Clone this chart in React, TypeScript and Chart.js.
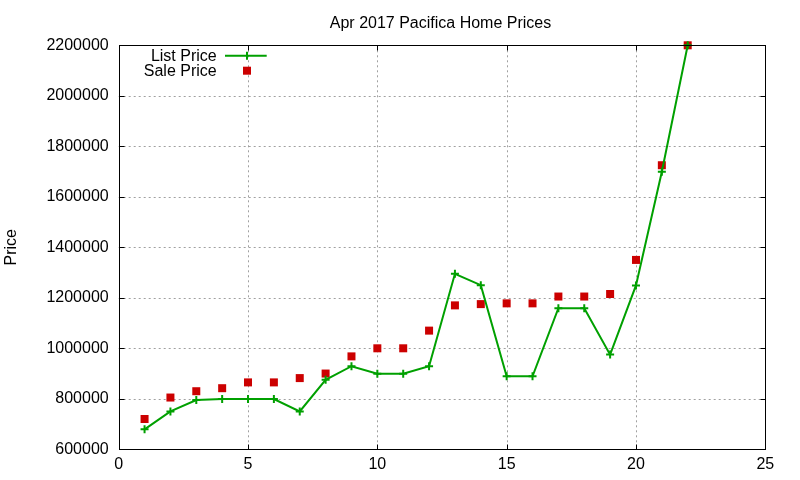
import { useEffect, useRef } from 'react';
import { Chart, registerables } from 'chart.js';

Chart.register(...registerables);

const chartTitle = 'Apr 2017 Pacifica Home Prices';
const yAxisTitle = 'Price';
const seriesNames = ['List Price', 'Sale Price'];
const homeIndex = [1, 2, 3, 4, 5, 6, 7, 8, 9, 10, 11, 12, 13, 14, 15, 16, 17, 18, 19, 20, 21, 22];
const listPrices = [679000, 750000, 795000, 799000, 799000, 799000, 750000, 875000, 929000, 899000, 899000, 929000, 1295000, 1250000, 889000, 889000, 1159000, 1159000, 975000, 1249000, 1699000, 2200000];
const salePrices = [720000, 805000, 830000, 842000, 865000, 865000, 882000, 900000, 968000, 1000000, 1000000, 1070000, 1170000, 1175000, 1178000, 1178000, 1205000, 1205000, 1215000, 1350000, 1725000, 2200000];
const xTicks = [0, 5, 10, 15, 20, 25];
const yTicks = [600000, 800000, 1000000, 1200000, 1400000, 1600000, 1800000, 2000000, 2200000];

const GREEN = '#00a000';
const RED = '#cc0000';
const FONT = '"Liberation Sans", Arial, sans-serif';

const framePlugin = {
  id: 'gnuFrame',
  beforeDatasetsDraw(chart: any) {
    const { ctx, chartArea: a, scales } = chart;
    const xs = scales.x;
    const ys = scales.y;
    ctx.save();
    ctx.strokeStyle = '#a0a0a0';
    ctx.lineWidth = 1;
    ctx.setLineDash([2, 3]);
    xTicks.forEach((v) => {
      const px = Math.round(xs.getPixelForValue(v)) + 0.5;
      if (px <= a.left + 1 || px >= a.right - 1) return;
      ctx.beginPath();
      ctx.moveTo(px, a.top);
      ctx.lineTo(px, a.bottom);
      ctx.stroke();
    });
    yTicks.forEach((v) => {
      const py = Math.round(ys.getPixelForValue(v)) + 0.5;
      if (py <= a.top + 1 || py >= a.bottom - 1) return;
      ctx.beginPath();
      ctx.moveTo(a.left, py);
      ctx.lineTo(a.right, py);
      ctx.stroke();
    });
    ctx.restore();
  },
  afterDatasetsDraw(chart: any) {
    const { ctx, chartArea: a, scales } = chart;
    const xs = scales.x;
    const ys = scales.y;
    ctx.save();
    ctx.strokeStyle = '#000';
    ctx.lineWidth = 1;
    ctx.setLineDash([]);
    const L = Math.round(a.left) + 0.5;
    const R = Math.round(a.right) + 0.5;
    const T = Math.round(a.top) + 0.5;
    const B = Math.round(a.bottom) + 0.5;
    ctx.strokeRect(L, T, R - L, B - T);
    const tl = 5;
    xTicks.forEach((v) => {
      const px = Math.round(xs.getPixelForValue(v)) + 0.5;
      ctx.beginPath();
      ctx.moveTo(px, B);
      ctx.lineTo(px, B - tl);
      ctx.moveTo(px, T);
      ctx.lineTo(px, T + tl);
      ctx.stroke();
    });
    yTicks.forEach((v) => {
      const py = Math.round(ys.getPixelForValue(v)) + 0.5;
      ctx.beginPath();
      ctx.moveTo(L, py);
      ctx.lineTo(L + tl, py);
      ctx.moveTo(R, py);
      ctx.lineTo(R - tl, py);
      ctx.stroke();
    });
    ctx.restore();
  },
  afterDraw(chart: any) {
    const { ctx, chartArea: a } = chart;
    ctx.save();
    ctx.fillStyle = '#000';
    ctx.font = `16px ${FONT}`;
    // title
    ctx.textAlign = 'center';
    ctx.textBaseline = 'alphabetic';
    ctx.fillText(chartTitle, (a.left + a.right) / 2 - 1.5, 28);
    // y axis title
    ctx.save();
    ctx.translate(15.5, (a.top + a.bottom) / 2);
    ctx.rotate(-Math.PI / 2);
    ctx.textAlign = 'center';
    ctx.fillText(yAxisTitle, 0, 0);
    ctx.restore();
    // legend
    const textRight = 216.7;
    const rows = [55.7, 70.7];
    ctx.textAlign = 'right';
    ctx.textBaseline = 'middle';
    seriesNames.forEach((n, i) => ctx.fillText(n, textRight, rows[i] + 0.5));
    ctx.strokeStyle = GREEN;
    ctx.lineWidth = 2;
    ctx.beginPath();
    ctx.moveTo(225, rows[0]);
    ctx.lineTo(266.7, rows[0]);
    ctx.moveTo(247, rows[0] - 4);
    ctx.lineTo(247, rows[0] + 4);
    ctx.stroke();
    ctx.fillStyle = RED;
    ctx.fillRect(247 - 4, rows[1] - 4, 8, 8);
    ctx.restore();
  },
};

export default function App() {
  const ref = useRef<HTMLCanvasElement>(null);
  useEffect(() => {
    document.body.style.margin = '0';
    const canvas = ref.current;
    if (!canvas) return;
    const chart = new Chart(canvas, {
      type: 'line',
      data: {
        datasets: [
          {
            label: seriesNames[0],
            data: homeIndex.map((x, i) => ({ x, y: listPrices[i] })),
            borderColor: GREEN,
            backgroundColor: GREEN,
            borderWidth: 2,
            pointStyle: 'cross',
            pointRadius: 4,
            pointBorderWidth: 2,
            pointBorderColor: GREEN,
            tension: 0,
            clip: false,
          },
          {
            label: seriesNames[1],
            data: homeIndex.map((x, i) => ({ x, y: salePrices[i] })),
            showLine: false,
            pointStyle: 'rect',
            pointRadius: 5.66,
            pointBorderWidth: 0,
            backgroundColor: RED,
            borderColor: RED,
            pointBackgroundColor: RED,
            clip: false,
          },
        ],
      },
      options: {
        responsive: false,
        animation: false,
        events: [],
        layout: { padding: { top: 45.3, right: 34.7, left: 0, bottom: 0 } },
        plugins: {
          legend: { display: false },
          title: { display: false },
          tooltip: { enabled: false },
        },
        scales: {
          x: {
            type: 'linear',
            min: 0,
            max: 25,
            grid: { display: false, drawTicks: false },
            border: { display: false },
            afterFit: (s: any) => {
              s.height = 30.7;
            },
            afterBuildTicks: (s: any) => {
              s.ticks = xTicks.map((v) => ({ value: v }));
            },
            ticks: {
              padding: 6,
              color: '#000',
              font: { family: FONT, size: 16 },
              maxRotation: 0,
              callback: (v: any) => String(v),
            },
          },
          y: {
            type: 'linear',
            min: 600000,
            max: 2200000,
            grid: { display: false, drawTicks: false },
            border: { display: false },
            afterFit: (s: any) => {
              s.width = 118.7;
            },
            afterBuildTicks: (s: any) => {
              s.ticks = yTicks.map((v) => ({ value: v }));
            },
            ticks: {
              padding: 10,
              color: '#000',
              font: { family: FONT, size: 16 },
              callback: (v: any) => String(v),
            },
          },
        },
      },
      plugins: [framePlugin],
    });
    return () => chart.destroy();
  }, []);
  return (
    <div style={{ width: 800, height: 480, background: '#fff' }}>
      <canvas ref={ref} width={800} height={480} style={{ width: 800, height: 480, display: 'block' }} />
    </div>
  );
}
